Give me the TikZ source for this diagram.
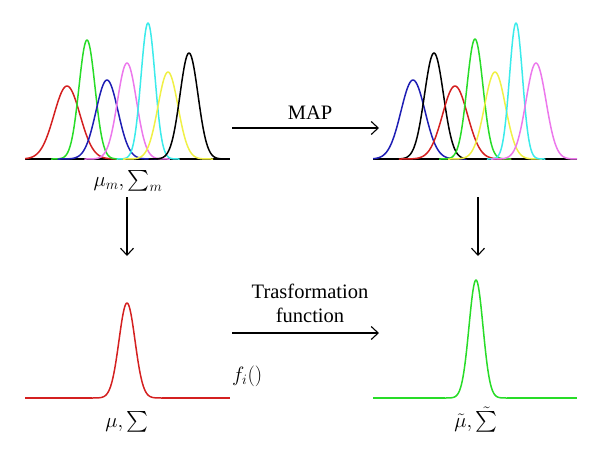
\documentclass[tikz,border=0pt]{standalone}
\usepackage{amsmath}
\usepackage{exscale}
\usepackage{fontspec}
\setmainfont{Liberation Serif}
\usetikzlibrary{arrows.meta}
\definecolor{cRed}{RGB}{212,32,32}
\definecolor{cGreen}{RGB}{40,220,40}
\definecolor{cBlue}{RGB}{30,30,180}
\definecolor{cViolet}{RGB}{236,120,236}
\definecolor{cCyan}{RGB}{60,235,235}
\definecolor{cYellow}{RGB}{240,240,70}
\tikzset{
  curve/.style={line width=1.5pt, line join=round},
  conn/.style={line width=1.1pt, -{Straight Barb[length=7pt,width=13pt]}},
  lab/.style={font=\fontsize{20.5}{24}\selectfont, inner sep=0pt},
  base/.style={line width=1.5pt}
}
\newcommand\gcurve[5]{%
  \pgfmathsetmacro\gA{#2-4.5*#3}%
  \pgfmathsetmacro\gB{#2+4.5*#3}%
  \draw[curve,#1] plot[domain=\gA:\gB, samples=90, smooth] (\x,{#5-#4*exp(-0.5*((\x-#2)/#3)^2)});%
}
\begin{document}
\begin{tikzpicture}[x=1pt,y=-1pt]
\useasboundingbox (0,0) rectangle (600,458);
% top left
\draw[base] (25,159) -- (230,159);
\begin{scope}
\clip (25,0) rectangle (230,170);
\gcurve{cRed}{67}{13}{73}{159}
\gcurve{cGreen}{87}{8}{119}{159}
\gcurve{cBlue}{107}{11}{79}{159}
\gcurve{cViolet}{127}{9.5}{96}{159}
\gcurve{cCyan}{148}{7}{136}{159}
\gcurve{cYellow}{168}{10}{87}{159}
\gcurve{black}{189}{9}{106}{159}
\end{scope}
% top right
\draw[base] (373,159) -- (577,159);
\begin{scope}
\clip (373,0) rectangle (577,170);
\gcurve{cBlue}{413}{12}{79}{159}
\gcurve{black}{434}{9.5}{106}{159}
\gcurve{cRed}{455}{12.5}{73}{159}
\gcurve{cGreen}{475}{8}{120}{159}
\gcurve{cYellow}{495}{10.5}{87}{159}
\gcurve{cCyan}{516}{6.5}{136}{159}
\gcurve{cViolet}{536}{10}{96}{159}
\end{scope}
% bottom left
\draw[curve,cRed] (25,398) -- (92,398);
\draw[curve,cRed] (162,398) -- (230,398);
\gcurve{cRed}{127}{8}{95}{398}
% bottom right
\draw[curve,cGreen] (373,398) -- (445,398);
\draw[curve,cGreen] (507,398) -- (577,398);
\gcurve{cGreen}{476}{7}{118}{398}
% labels
\node[lab, anchor=base] (lm) at (128,186) {$\mu_m, \sum_m$};
\node[lab, anchor=base] (lr) at (127,427) {$\mu, \sum$};
\node[lab, anchor=base] (rr) at (476,427) {$\tilde{\mu}, \tilde{\sum}$};
\node[lab, anchor=base] (map) at (310,119) {MAP};
\node[lab, align=center, anchor=base] (tf) at (310,322) {Trasformation\\function};
\node[lab, anchor=base west] (fi) at (232,381) {$f_i()$};
% connectors
\coordinate (a1s) at (127,197);
\coordinate (a1e) at (127,256);
\coordinate (a2s) at (478,197);
\coordinate (a2e) at (478,256);
\coordinate (m1) at (232,128);
\coordinate (m2) at (379,128);
\coordinate (t1) at (232,333);
\coordinate (t2) at (379,333);
\draw[conn] (a1s) -- (a1e);
\draw[conn] (a2s) -- (a2e);
\draw[conn] (m1) -- (m2);
\draw[conn] (t1) -- (t2);
\end{tikzpicture}
\end{document}
